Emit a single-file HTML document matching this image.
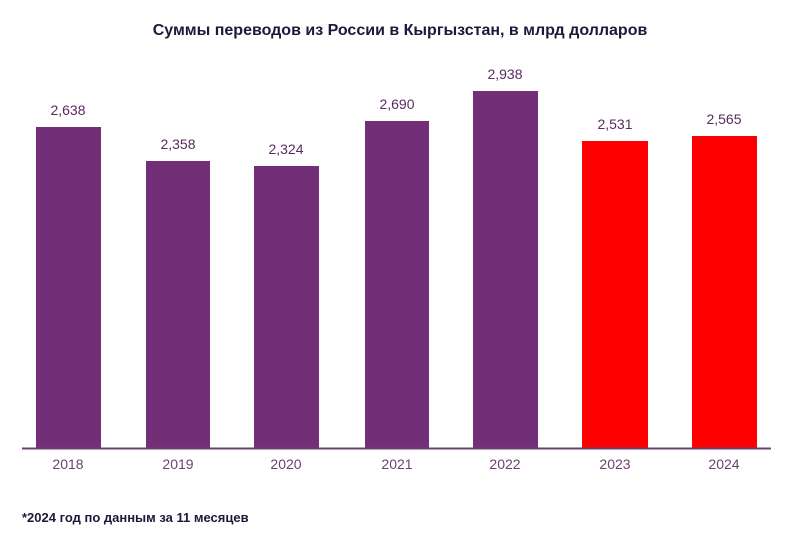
<!DOCTYPE html>
<html><head><meta charset="utf-8"><style>
html,body{margin:0;padding:0;background:#fff;}
svg{display:block;font-family:"Liberation Sans","DejaVu Sans",sans-serif;}
</style></head><body>
<svg width="800" height="533" viewBox="0 0 800 533">
<text x="400" y="35" text-anchor="middle" font-size="16" font-weight="bold" fill="#1a1a3a">Суммы переводов из России в Кыргызстан, в млрд долларов</text>
<g fill="#722f78">
<rect x="36" y="127" width="65" height="321"/>
<rect x="146" y="161" width="64" height="287"/>
<rect x="254" y="166" width="65" height="282"/>
<rect x="365" y="121" width="64" height="327"/>
<rect x="473" y="91" width="65" height="357"/>
</g>
<g fill="#ff0000">
<rect x="582" y="141" width="66" height="307"/>
<rect x="692" y="136" width="65" height="312"/>
</g>
<line x1="22" y1="448.5" x2="771" y2="448.5" stroke="#6e3f73" stroke-width="2"/>
<g font-size="14" fill="#5a2a60" text-anchor="middle">
<text x="68" y="115">2,638</text>
<text x="178" y="149">2,358</text>
<text x="286" y="154">2,324</text>
<text x="397" y="109">2,690</text>
<text x="505" y="79">2,938</text>
<text x="615" y="129">2,531</text>
<text x="724" y="124">2,565</text>
</g>
<g font-size="14" fill="#6e3f73" text-anchor="middle">
<text x="68" y="469">2018</text>
<text x="178" y="469">2019</text>
<text x="286" y="469">2020</text>
<text x="397" y="469">2021</text>
<text x="505" y="469">2022</text>
<text x="615" y="469">2023</text>
<text x="724" y="469">2024</text>
</g>
<text x="22" y="522" font-size="13" font-weight="bold" fill="#1a1a3a">*2024 год по данным за 11 месяцев</text>
</svg>
</body></html>
